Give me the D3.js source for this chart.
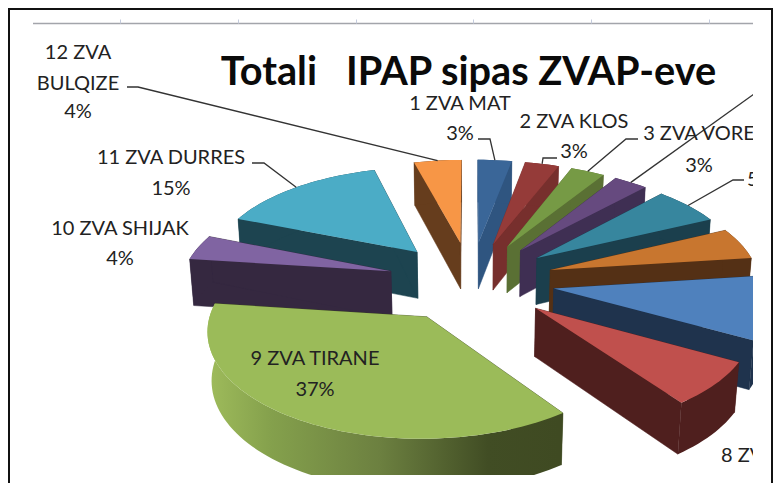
<!DOCTYPE html>
<html><head><meta charset="utf-8">
<script src="https://cdnjs.cloudflare.com/ajax/libs/d3/7.8.5/d3.min.js"></script>
<style>html,body{margin:0;padding:0;background:#fff;overflow:hidden}text{font-family:Lato,"Noto Sans",sans-serif}</style>
</head><body><svg id="c" width="779" height="483"></svg>
<script>
const categories=["1 ZVA MAT","2 ZVA KLOS","3 ZVA VORE","4 ZVA","5 ZVA","6 ZVA","7 ZVA","8 ZVA","9 ZVA TIRANE","10 ZVA SHIJAK","11 ZVA DURRES","12 ZVA BULQIZE"];
const shares=[3,3,3,3,6,5,10,7,37,4,14.8,4.2];
const topColors=["#3a6698","#953b39","#769a45","#664a7f","#37869e","#c8762f","#4f81bd","#c0504d","#9bbb59","#8064a2","#4bacc6","#f79646"];
const wallColors=["#2f5580","#772f2d","#5a7034","#3f2f53","#1b3f4d","#543015","#1f334d","#4f1f1e","#3f4a22","#352840","#1d4450","#663d1d"];
const titleText="Totali\u00a0\u00a0 IPAP sipas ZVAP-eve";
const axisTicks=[120,238,356,473,591,709];

const svg=d3.select("#c");
const defs=svg.append("defs");
defs.append("clipPath").attr("id","clip").append("rect").attr("x",33).attr("y",23).attr("width",720).attr("height",452);
const g=defs.append("linearGradient").attr("id","tirane").attr("gradientUnits","userSpaceOnUse").attr("x1",200).attr("x2",560).attr("y1",0).attr("y2",0);
[[0,"#a2bf5d"],[.2,"#84a04c"],[.5,"#6c8040"],[.8,"#414d24"],[1,"#3f4a22"]].forEach(s=>g.append("stop").attr("offset",s[0]).attr("stop-color",s[1]));

// frame
svg.append("rect").attr("x",9).attr("y",9).attr("width",763).attr("height",490).attr("fill","none").attr("stroke","#111").attr("stroke-width",2);
const axisScale=d3.scaleIdentity();
const axisG=svg.append("g").attr("transform","translate(0,23.5)").call(d3.axisTop(axisScale).tickValues(axisTicks).tickSize(4).tickFormat(""));
axisG.selectAll("path").attr("d","M33,0H753").attr("stroke","#a3a5ab").attr("stroke-width",1.6);
axisG.selectAll("line").attr("stroke","#c4cbdc");

const plot=svg.append("g").attr("clip-path","url(#clip)");

const cx=471,cy=281,A=209,B=100,T=48,p=.11,q=.015,explode=.4;
function project(X,Y,z){const w=1-p*Y+q*z;return [cx+A*X/w,cy+(B*Y+T*z)/w];}
const pieGen=d3.pie().sort(null).value(d=>d);
const arcs=pieGen(shares).map((a,i)=>{
  const m=(a.startAngle+a.endAngle)/2;
  return {i,a0:a.startAngle,a1:a.endAngle,m,ox:explode*Math.sin(m),oy:-explode*Math.cos(m)};
});
const line=d3.line();
function apex(d,z){return project(d.ox,d.oy,z);}
function rim(d,a,z){return project(d.ox+Math.sin(a),d.oy-Math.cos(a),z);}
function arcPts(d,z){const n=Math.max(3,Math.ceil((d.a1-d.a0)*30));return d3.range(n+1).map(k=>rim(d,d.a0+(d.a1-d.a0)*k/n,z));}

[...arcs].sort((u,v)=>u.oy-v.oy).forEach(d=>{
  const col=wallColors[d.i];
  const gs=plot.append("g");
  // radial walls
  [d.a0,d.a1].forEach(a=>{
    gs.append("path").attr("d",line([apex(d,0),rim(d,a,0),rim(d,a,1),apex(d,1)])+"Z").attr("fill",col).attr("stroke",col).attr("stroke-width",.5);
  });
  // outer wall
  gs.append("path").attr("d",line([...arcPts(d,0),...arcPts(d,1).reverse()])+"Z").attr("fill",d.i===8?"url(#tirane)":col);
  // top
  gs.append("path").attr("d",line([apex(d,0),...arcPts(d,0)])+"Z").attr("fill",topColors[d.i]);
});

// title
svg.append("text").attr("x",468.5).attr("y",85).attr("text-anchor","middle").attr("font-size",39.7).attr("font-weight",700).attr("fill","#0a0a0a").text(titleText);

// leaders: start at the label elbow, finish on the slice rim
const leaders=[
 {i:11,pts:[[127,87],[138,87]]},{i:10,pts:[[252,163],[264,163]]},
 {i:0,pts:[[478,139],[490,139]]},{i:1,pts:[[557,158],[543,158]]},
 {i:2,pts:[[638,139],[626,139]]},{i:3,pts:[[775,79]]},{i:4,pts:[[744,180],[733,180]]}];
leaders.forEach(l=>{
  const d=arcs[l.i];
  plot.append("path").attr("d",line([...l.pts,rim(d,d.m,0)])).attr("fill","none").attr("stroke","#333").attr("stroke-width",1.3);
});

// labels
const labels=[
 [78,"middle",[[59,"12 ZVA"],[90,"BULQIZE"],[118,"4%"]]],
 [171,"middle",[[164,"11 ZVA DURRES"],[195,"15%"]]],
 [120,"middle",[[235,"10 ZVA SHIJAK"],[265,"4%"]]],
 [315,"middle",[[365,"9 ZVA TIRANE"],[396,"37%"]]],
 [460,"middle",[[110,"1 ZVA MAT"],[140,"3%"]]],
 [574,"middle",[[128,"2 ZVA KLOS"],[158,"3%"]]],
 [699,"middle",[[140,"3 ZVA VORE"],[172,"3%"]]],
 [747,"start",[[186,"5"]]],
 [721,"start",[[462,"8 ZV"]]]];
const textG=plot.append("g");
labels.forEach(([x,anchor,rows])=>rows.forEach(([y,t])=>{
  textG.append("text").attr("x",x).attr("y",y).attr("text-anchor",anchor).attr("font-size",20).attr("fill","#222").text(t);
}));
</script></body></html>
